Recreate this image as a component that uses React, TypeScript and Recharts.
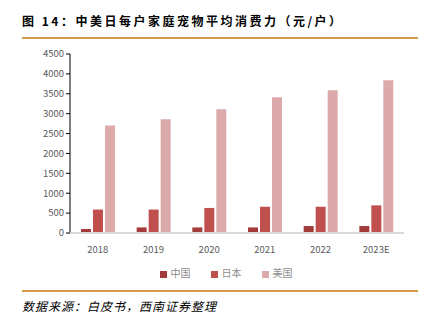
import { BarChart, Bar, XAxis, YAxis, Legend } from 'recharts';

const years = ['2018', '2019', '2020', '2021', '2022', '2023E'];
const china = [100, 140, 140, 140, 175, 175];
const japan = [590, 590, 630, 660, 660, 695];
const usa = [2700, 2860, 3110, 3410, 3590, 3840];
const yTicks = [0, 500, 1000, 1500, 2000, 2500, 3000, 3500, 4000, 4500];

const data = years.map((year, i) => ({
  year,
  中国: china[i],
  日本: japan[i],
  美国: usa[i],
}));

const font = '"Noto Sans CJK SC", "Noto Sans", sans-serif';

export default function App() {
  return (
    <div
      style={{
        position: 'absolute',
        left: 0,
        top: 0,
        width: 426,
        height: 327,
        background: '#fff',
        fontFamily: font,
        overflow: 'hidden',
      }}
    >
      <div
        style={{
          position: 'absolute',
          left: 22,
          top: 12,
          fontSize: 12,
          fontWeight: 700,
          letterSpacing: 2.5,
          color: '#000',
          whiteSpace: 'nowrap',
        }}
      >
        图 14：中美日每户家庭宠物平均消费力（元/户）
      </div>
      <div style={{ position: 'absolute', left: 22, top: 37, width: 396, height: 2, background: '#d89a4a' }} />
      <div style={{ position: 'absolute', left: 0, top: 40 }}>
        <BarChart
          width={426}
          height={250}
          data={data}
          margin={{ top: 14, right: 22, left: 0, bottom: 0 }}
          barGap={2}
          barSize={10}
        >
          <YAxis
            domain={[0, 4500]}
            ticks={yTicks}
            interval={0}
            width={70}
            axisLine={{ stroke: '#000', strokeWidth: 1 }}
            tickLine={{ stroke: '#000' }}
            tickSize={4}
            tick={{ fill: '#595959', fontSize: 9.5, fontFamily: font }}
          />
          <XAxis
            dataKey="year"
            axisLine={{ stroke: '#d9d9d9', strokeWidth: 2 }}
            tickLine={false}
            tickMargin={7}
            tick={{ fill: '#595959', fontSize: 9.5, fontFamily: font }}
          />
          <Legend
            verticalAlign="bottom"
            height={25}
            iconType="square"
            iconSize={7}
            wrapperStyle={{ fontSize: 10, fontFamily: font, paddingLeft: 34, paddingTop: 2 }}
            formatter={(v) => <span style={{ color: '#8c8c8c', marginRight: 10 }}>{v}</span>}
          />
          <Bar dataKey="中国" fill="#a33b3b" isAnimationActive={false} />
          <Bar dataKey="日本" fill="#c0504d" isAnimationActive={false} />
          <Bar dataKey="美国" fill="#dcaaab" isAnimationActive={false} />
        </BarChart>
      </div>
      <div style={{ position: 'absolute', left: 22, top: 290, width: 396, height: 2, background: '#d89a4a' }} />
      <div
        style={{
          position: 'absolute',
          left: 22,
          top: 297,
          fontSize: 12,
          fontStyle: 'italic',
          letterSpacing: 1,
          fontFamily: '"Noto Sans CJK SC", serif',
          color: '#000',
          whiteSpace: 'nowrap',
        }}
      >
        数据来源：白皮书，西南证券整理
      </div>
    </div>
  );
}
